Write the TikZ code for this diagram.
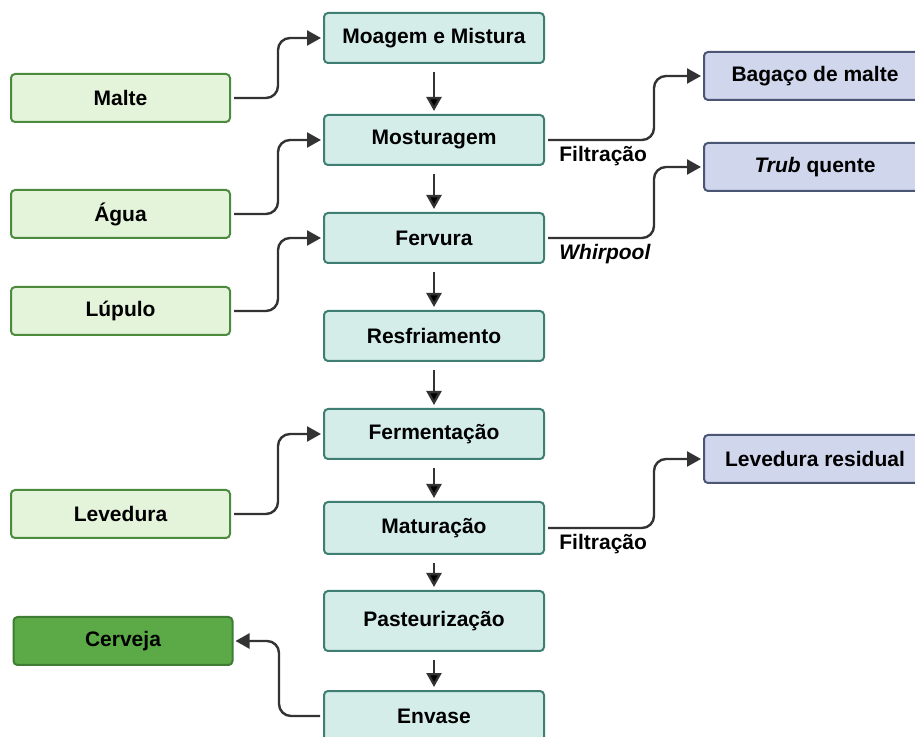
\documentclass[tikz,border=0pt]{standalone}
\usepackage{fontspec}
\setmainfont{Liberation Sans}
\usetikzlibrary{arrows.meta,positioning}
\definecolor{procfill}{HTML}{D4EDE9}
\definecolor{procdraw}{HTML}{3F7F73}
\definecolor{infill}{HTML}{E3F4DA}
\definecolor{indraw}{HTML}{4C8A3E}
\definecolor{beerfill}{HTML}{5BAA47}
\definecolor{beerdraw}{HTML}{3E7D33}
\definecolor{wastefill}{HTML}{D0D6EC}
\definecolor{wastedraw}{HTML}{4B5675}
\definecolor{linecol}{HTML}{333333}

\begin{document}
\begin{tikzpicture}[x=1pt,y=1pt,>={Triangle[length=14pt,width=15pt]},thick,
  every node/.style={font=\fontsize{21}{25}\selectfont\bfseries},
  proc node/.style={rectangle,rounded corners=4pt,draw=procdraw,fill=procfill,line width=2pt,minimum width=220pt,minimum height=50pt},
  in node/.style={rectangle,rounded corners=4pt,draw=indraw,fill=infill,line width=2pt,minimum width=219pt,minimum height=48pt},
  beer node/.style={in node,draw=beerdraw,fill=beerfill},
  waste node/.style={rectangle,rounded corners=4pt,draw=wastedraw,fill=wastefill,line width=2pt,minimum width=222pt,minimum height=48pt},
  feed/.style={->,draw=linecol,line width=2.4pt,rounded corners=12pt,shorten <=3pt,shorten >=2pt},
  lbl/.style={inner sep=0pt}]

  \useasboundingbox (0,0) rectangle (915,736);

  % main column
  \node[proc node] (moagem) at (434,698) {Moagem e Mistura};
  \node[proc node] (mostur) at (434,596) {Mosturagem};
  \node[proc node] (fervura) at (434,498) {Fervura};
  \node[proc node] (resfr) at (434,400) {Resfriamento};
  \node[proc node] (ferment) at (434,302) {Fermentação};
  \node[proc node, minimum height=52pt] (matur) at (434,208) {Maturação};
  \node[proc node, minimum height=60pt] (pasteur) at (434,115) {Pasteurização};
  \node[proc node] (envase) at (434,20) {Envase};

  % inputs
  \node[in node] (malte) at (120.5,638) {Malte};
  \node[in node] (agua) at (120.5,522) {Água};
  \node[in node] (lupulo) at (120.5,425) {Lúpulo};
  \node[in node] (levedura) at (120.5,222) {Levedura};
  \node[beer node] (cerveja) at (123,95) {Cerveja};

  % by-products
  \node[waste node] (bagaco) at (815,660) {Bagaço de malte};
  \node[waste node] (trub) at (815,569) {\itshape Trub\upshape{} quente};
  \node[waste node] (levres) at (815,277) {Levedura residual};

  \path[->, draw=linecol, line width=2.4pt, shorten <=8pt, shorten >=3pt]
    (moagem) edge (mostur)
    (mostur) edge (fervura)
    (fervura) edge (resfr)
    (resfr) edge (ferment)
    (ferment) edge (matur)
    (matur) edge (pasteur)
    (pasteur) edge (envase);

  \draw[feed] (malte.east) -- ++(47,0) |- (moagem.west);
  \draw[feed] (agua.east) -- ++(47,0) |- (mostur.west);
  \draw[feed] (lupulo.east) -- ++(47,0) |- (fervura.west);
  \draw[feed] (levedura.east) -- ++(47,0) |- (ferment.west);
  \draw[feed] (envase.west) -- ++(-44,0) |- (cerveja.east);

  \draw[feed] (mostur.east) -- ++(109,0) |- (bagaco.west);
  \draw[feed] (fervura.east) -- ++(109,0) |- (trub.west);
  \draw[feed] (matur.east) -- ++(109,0) |- (levres.west);

  \node[lbl, below right=6pt and 14pt of mostur.east] (filt1) {Filtração};
  \node[lbl, below right=6pt and 14pt of fervura.east] (whirl) {\itshape Whirpool};
  \node[lbl, below right=6pt and 14pt of matur.east] (filt2) {Filtração};

\end{tikzpicture}
\end{document}
